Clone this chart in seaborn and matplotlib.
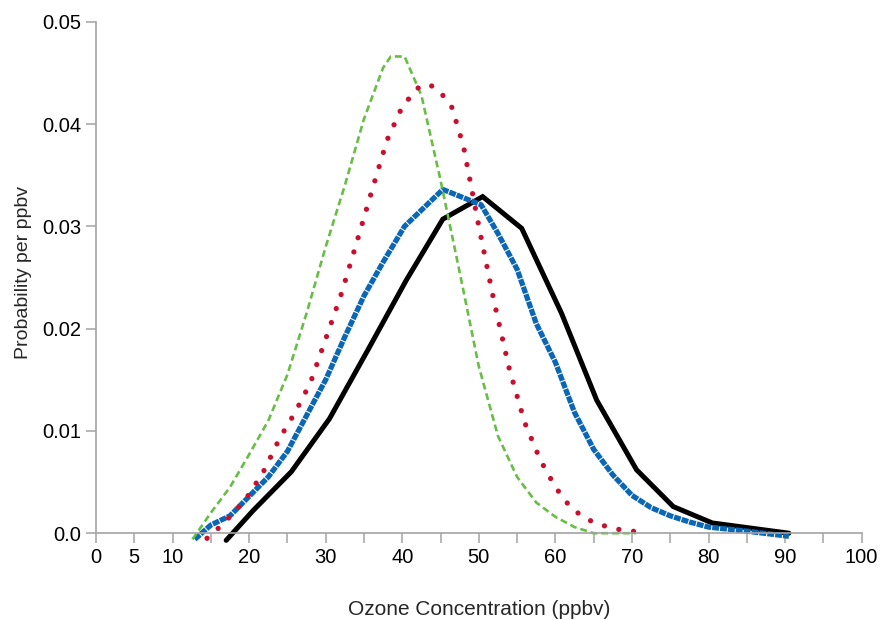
import matplotlib
matplotlib.use("Agg")
import matplotlib.pyplot as plt
import seaborn as sns
import numpy as np
from matplotlib.ticker import FixedLocator, FixedFormatter

# --- data (ozone probability distributions) ---
black_x = [17.0, 20.5, 25.5, 30.5, 35.5, 40.5, 45.3, 50.5, 55.6, 60.8, 65.4, 70.6, 75.4, 80.5, 85.5, 90.5]
black_y = [-0.0007, 0.0022, 0.0060, 0.0112, 0.0179, 0.0247, 0.0307, 0.0329, 0.0298, 0.0215,
           0.0130, 0.0062, 0.0026, 0.0010, 0.0005, 0.0000]

blue_x = [12.9, 15.0, 17.5, 20.0, 22.5, 25.0, 27.5, 30.0, 32.5, 35.0, 37.5, 40.3, 45.3, 50.3,
          52.5, 55.0, 57.5, 60.0, 62.5, 65.0, 67.5, 70.0, 72.5, 75.0, 77.5, 80.0, 85.0, 90.5]
blue_y = [-0.0006, 0.0008, 0.0017, 0.0036, 0.0055, 0.0080, 0.0115, 0.0150, 0.0192, 0.0232,
          0.0265, 0.0300, 0.0336, 0.0321, 0.0293, 0.0258, 0.0205, 0.0167, 0.0118, 0.0082,
          0.0057, 0.0037, 0.0025, 0.0017, 0.0011, 0.0006, 0.0002, -0.0003]

green_x = [12.6, 15.0, 17.5, 20.0, 22.5, 25.0, 27.5, 30.0, 32.5, 35.0, 37.5, 38.5, 40.3,
           42.5, 45.0, 47.5, 50.0, 52.5, 55.0, 57.5, 60.0, 62.5, 65.0, 70.5]
green_y = [-0.0006, 0.0020, 0.0045, 0.0077, 0.0110, 0.0155, 0.0215, 0.0280, 0.0340, 0.0405,
           0.0455, 0.0466, 0.0466, 0.0428, 0.0345, 0.0255, 0.0163, 0.0095, 0.0055, 0.0030,
           0.0016, 0.0006, 0.0000, 0.0000]

red_x = [14.5, 16.0, 18.0, 20.0, 22.0, 24.0, 26.0, 28.0, 30.0, 32.0, 34.0, 36.0, 38.0, 40.0,
         42.0, 43.5, 45.0, 46.5, 48.0, 50.0, 52.0, 54.0, 56.0, 58.0, 60.0, 62.0, 64.0, 66.0,
         68.0, 70.0, 71.5]
red_y = [-0.0005, 0.0005, 0.0020, 0.0038, 0.0062, 0.0093, 0.0118, 0.0147, 0.0190, 0.0233,
         0.0283, 0.0334, 0.0384, 0.0417, 0.0435, 0.0439, 0.0431, 0.0416, 0.0378, 0.0300,
         0.0226, 0.0160, 0.0108, 0.0072, 0.0045, 0.0025, 0.0014, 0.0008, 0.0004, 0.0002,
         0.0001]

x_ticks = list(range(0, 101, 5))
x_labels = ["0", "5", "10", "", "20", "", "30", "", "40", "", "50", "", "60", "", "70", "",
            "80", "", "90", "", "100"]
y_ticks = [0.0, 0.01, 0.02, 0.03, 0.04, 0.05]
y_labels = ["0.0", "0.01", "0.02", "0.03", "0.04", "0.05"]

sns.set_style("ticks")
plt.rcParams['font.family'] = ['Liberation Sans', 'DejaVu Sans']

fig = plt.figure(figsize=(8.81, 6.2), dpi=100)
ax = fig.add_axes([0.109, 0.140, 0.869, 0.825])

axis_grey = "#a3a3a3"

# draw order: black, blue, green, red (red dots sit on top)
sns.lineplot(x=black_x, y=black_y, ax=ax, color="black", linewidth=3.6,
             sort=False, clip_on=False, solid_joinstyle="miter")
sns.lineplot(x=blue_x, y=blue_y, ax=ax, color="#0b66b6", linewidth=3.8,
             sort=False, clip_on=False, linestyle=(0, (1.3, 0.2)))
sns.lineplot(x=green_x, y=green_y, ax=ax, color="#68bd45", linewidth=1.9,
             sort=False, clip_on=False, linestyle=(0, (2.6, 1.5)))
sns.lineplot(x=red_x, y=red_y, ax=ax, color="#c8102e", linewidth=3.8,
             sort=False, clip_on=False, linestyle=(0, (0.01, 2.8)),
             dash_capstyle="round")

ax.set_xlim(0, 100)
ax.set_ylim(0, 0.05)

ax.xaxis.set_major_locator(FixedLocator(x_ticks))
ax.xaxis.set_major_formatter(FixedFormatter(x_labels))
ax.yaxis.set_major_locator(FixedLocator(y_ticks))
ax.yaxis.set_major_formatter(FixedFormatter(y_labels))

sns.despine(ax=ax)
for side in ["left", "bottom"]:
    ax.spines[side].set_color(axis_grey)
    ax.spines[side].set_linewidth(1.2)

ax.tick_params(axis="both", which="major", direction="out", length=7.5, width=1.1,
               color=axis_grey, labelsize=14.5, labelcolor="black", pad=3)

ax.set_xlabel("Ozone Concentration (ppbv)", fontsize=15, labelpad=24)
ax.set_ylabel("Probability per ppbv", fontsize=14, labelpad=10)
ax.yaxis.set_label_coords(-0.084, 0.51)

fig.savefig("out.png", dpi=100)
plt.close(fig)
